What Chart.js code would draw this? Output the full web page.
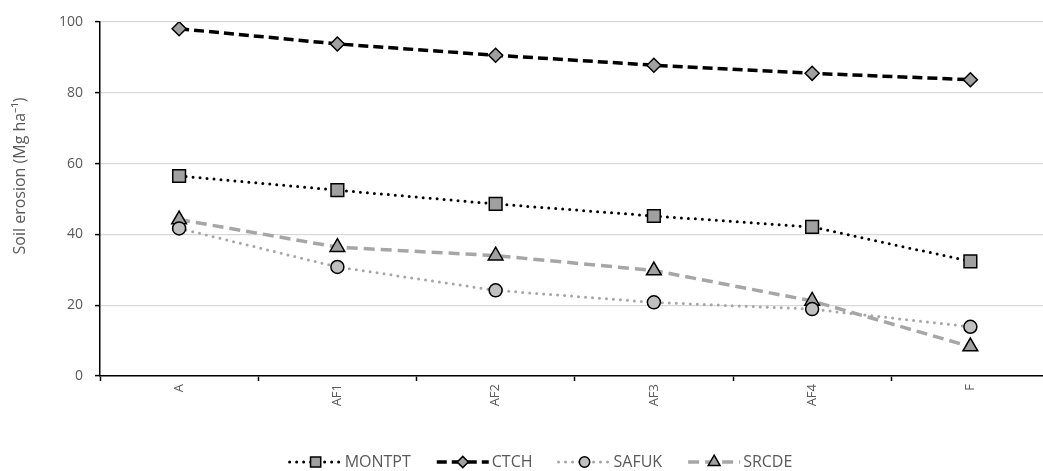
<!DOCTYPE html>
<html>
<head>
<meta charset="utf-8">
<script src="https://cdn.jsdelivr.net/npm/chart.js@4/dist/chart.umd.min.js"></script>
<style>
body { margin: 0; overflow: hidden; background: white; }
</style>
</head>
<body>
<canvas id="chart" width="1060" height="471"></canvas>
<script>
const categories = ["A", "AF1", "AF2", "AF3", "AF4", "F"];
const montpt = [56.5, 52.5, 48.6, 45.2, 42.1, 32.4];
const ctch = [98.1, 93.8, 90.6, 87.8, 85.5, 83.7];
const safuk = [41.7, 30.8, 24.2, 20.8, 18.9, 13.9];
const srcde = [44.2, 36.4, 34.0, 29.8, 21.2, 8.3];
const yTicks = [0, 20, 40, 60, 80, 100];
const yTitle = 'Soil erosion (Mg ha\u207B\u00B9)';

const font = "Open Sans";
const grey = "#595959";

// legend (line + marker + text) and the y title, drawn by hand
const legendPlugin = {
  id: 'lineLegend',
  afterDraw(chart) {
    const ctx = chart.ctx;
    ctx.save();
    ctx.fillStyle = grey;
    ctx.font = "16px " + font;
    ctx.translate(20, 176);
    ctx.rotate(-Math.PI / 2);
    ctx.textAlign = 'center';
    ctx.textBaseline = 'middle';
    ctx.fillText(yTitle, 0, 0);
    ctx.restore();

    ctx.save();
    ctx.font = "16px " + font;
    const lineLen = 52, gap = 3, space = 26;
    let items = chart.data.datasets.map(ds => ({ds: ds, w: lineLen + gap + ctx.measureText(ds.label).width}));
    let total = items.reduce((s, it) => s + it.w, 0) + space * (items.length - 1);
    let x = 541 - total / 2;
    const y = 462;
    items.forEach(it => {
      const ds = it.ds;
      ctx.strokeStyle = ds.borderColor;
      ctx.lineWidth = ds.borderWidth;
      ctx.lineCap = ds.borderCapStyle || 'butt';
      ctx.setLineDash(ds.borderDash);
      ctx.beginPath();
      ctx.moveTo(x, y);
      ctx.lineTo(x + lineLen, y);
      ctx.stroke();
      ctx.setLineDash([]);
      ctx.fillStyle = ds.pointBackgroundColor;
      ctx.strokeStyle = '#000';
      ctx.lineWidth = 1.5;
      Chart.helpers.drawPoint(ctx, {
        pointStyle: ds.pointStyle, radius: ds.pointRadius * 0.8, borderWidth: 1.5, rotation: 0
      }, x + lineLen / 2, y);
      ctx.fillStyle = grey;
      ctx.textBaseline = 'middle';
      ctx.textAlign = 'left';
      ctx.fillText(ds.label, x + lineLen + gap, y);
      x += it.w + space;
    });
    ctx.restore();
  }
};

new Chart(document.getElementById('chart'), {
  type: 'line',
  data: {
    labels: categories,
    datasets: [
      { label: 'MONTPT', data: montpt, borderColor: '#000', borderWidth: 3, borderDash: [0, 7], borderCapStyle: 'round',
        pointStyle: 'rect', pointRadius: 9, pointBackgroundColor: '#a0a0a0', pointBorderColor: '#000', pointBorderWidth: 1.5 },
      { label: 'CTCH', data: ctch, borderColor: '#000', borderWidth: 3.5, borderDash: [10, 5],
        pointStyle: 'rectRot', pointRadius: 7, pointBackgroundColor: '#a0a0a0', pointBorderColor: '#000', pointBorderWidth: 1.5 },
      { label: 'SAFUK', data: safuk, borderColor: '#a6a6a6', borderWidth: 3, borderDash: [0, 7], borderCapStyle: 'round',
        pointStyle: 'circle', pointRadius: 6.5, pointBackgroundColor: '#c0c0c0', pointBorderColor: '#000', pointBorderWidth: 1.5 },
      { label: 'SRCDE', data: srcde, borderColor: '#a6a6a6', borderWidth: 3.5, borderDash: [11, 6],
        pointStyle: 'triangle', pointRadius: 8.5, pointBackgroundColor: '#a0a0a0', pointBorderColor: '#000', pointBorderWidth: 1.5 }
    ]
  },
  options: {
    responsive: false,
    animation: false,
    layout: { padding: { left: 0, top: 22, right: 6, bottom: 60 } },
    plugins: { legend: { display: false }, tooltip: { enabled: false } },
    scales: {
      x: {
        offset: true,
        afterFit: s => { s.height = 35; },
        grid: { offset: true, drawOnChartArea: false, drawTicks: true, tickLength: 5, tickColor: '#000', tickWidth: 1.5 },
        border: { color: '#000', width: 1.5 },
        ticks: { color: grey, font: { family: font, size: 13 }, minRotation: 90, maxRotation: 90, padding: 3 }
      },
      y: {
        min: 0, max: 100,
        afterFit: s => { s.width = 100; },
        afterBuildTicks: s => { s.ticks = yTicks.map(v => ({value: v})); },
        grid: { color: '#d9d9d9', lineWidth: 1.2, tickLength: 5, tickColor: '#000', tickWidth: 1.5 },
        border: { color: '#000', width: 1.5 },
        ticks: { color: grey, font: { family: font, size: 14 }, padding: 12 }
      }
    }
  },
  plugins: [legendPlugin]
});
</script>
</body>
</html>
